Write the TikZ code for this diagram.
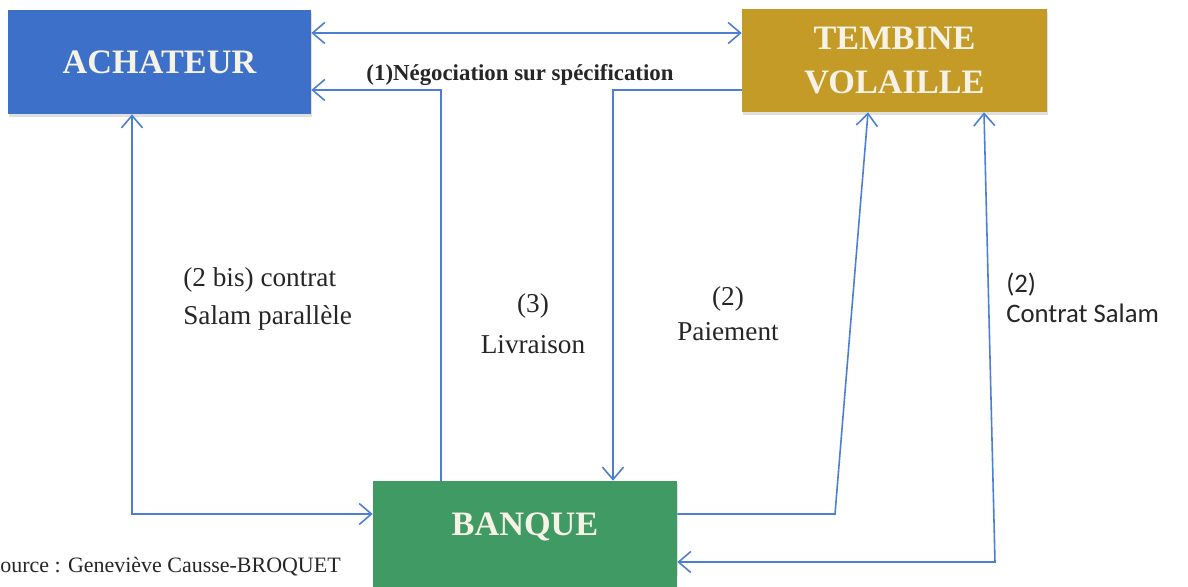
\documentclass[tikz,border=0pt]{standalone}
\usepackage{fontspec}
\setmainfont{Liberation Serif}
\newfontfamily\calibrifont{Carlito}
\usetikzlibrary{arrows.meta,calc,positioning,shadows}
\definecolor{AchatBlue}{HTML}{3D70C9}
\definecolor{TembineGold}{HTML}{C49B27}
\definecolor{BanqueGreen}{HTML}{3F9A64}
\definecolor{FlowBlue}{HTML}{4C7FD4}
\definecolor{BoxText}{HTML}{F6F2E6}
\definecolor{LabelInk}{HTML}{262626}

\begin{document}
\begin{tikzpicture}[
  x=0.02cm, y=-0.02cm,
  >={Straight Barb[length=7pt,width=12pt,line width=0.9pt]},
  actor/.style={fill=#1, text=BoxText, font=\fontsize{19.5}{25.5}\selectfont\bfseries, align=center, inner sep=0pt, drop shadow={opacity=0.25, shadow xshift=0.5pt, shadow yshift=-1.5pt}},
  link/.style={draw=FlowBlue, line width=0.9pt},
  lbl/.style={text=LabelInk, align=center, inner sep=0pt},
]
\fill[white] (0,0) rectangle (1188,586);
\useasboundingbox (0,0) rectangle (1188,586);

% the three parties
\node[actor=AchatBlue, minimum width=6.06cm, minimum height=2.08cm] (achat) at (159.5,62) {ACHATEUR};
\node[actor=TembineGold, minimum width=6.1cm, minimum height=2.06cm] (tembine) at (894.5,60.5) {TEMBINE\\VOLAILLE};
\node[actor=BanqueGreen, minimum width=6.08cm, minimum height=1.84cm] (banque) at (525,527) {BANQUE};
\fill[BanqueGreen] (banque.south west) rectangle ($(banque.south east)+(0,20)$);

% rows and columns of the flows
\coordinate (rowA) at (0,33);
\coordinate (rowB) at (0,90);
\coordinate (rowC) at (0,514);
\coordinate (rowD) at (0,562);
\coordinate (colBis) at (132,0);
\coordinate (colLiv) at (441,0);
\coordinate (colPay) at (613,0);
\coordinate (colSal) at (868,0);
\coordinate (colCtr) at (984,0);
\coordinate (payBend) at (835,514);
\coordinate (ctrBend) at (995,562);

\draw[link,<->] (achat.east |- rowA) -- (tembine.west |- rowA);
\draw[link,->] (tembine.west |- rowB) -| (colPay |- banque.north);
\draw[link,->] (colLiv |- banque.north) |- (achat.east |- rowB);
\draw[link,<->] (colBis |- achat.south) |- (banque.west |- rowC);
\draw[link,->] (banque.east |- rowC) -- (payBend) -- (colSal |- tembine.south);
\draw[link,<->] (colCtr |- tembine.south) -- (ctrBend) -- (banque.east |- rowD);

% labels
\node[lbl, font=\fontsize{13}{15}\selectfont\bfseries] (nego) at (520,75) {(1)Négociation sur spécification};
\node[lbl, align=left, anchor=west, font=\fontsize{15.5}{21.5}\selectfont] (bis) at (183,299) {(2 bis) contrat\\Salam parallèle};
\node[lbl, font=\fontsize{15.5}{23.5}\selectfont] (livr) at (533,324) {(3)\\Livraison};
\node[lbl, font=\fontsize{15.5}{20}\selectfont] (pay) at (728,314) {(2)\\Paiement};
\node[lbl, align=left, anchor=west, font=\calibrifont\fontsize{15.2}{17}\selectfont] (sal) at (1006,298) {(2)\\Contrat Salam};
\node[lbl, anchor=west, font=\fontsize{12.5}{14}\selectfont] (src) at (0,567) {ource : Geneviève Causse-BROQUET};
\end{tikzpicture}
\end{document}
